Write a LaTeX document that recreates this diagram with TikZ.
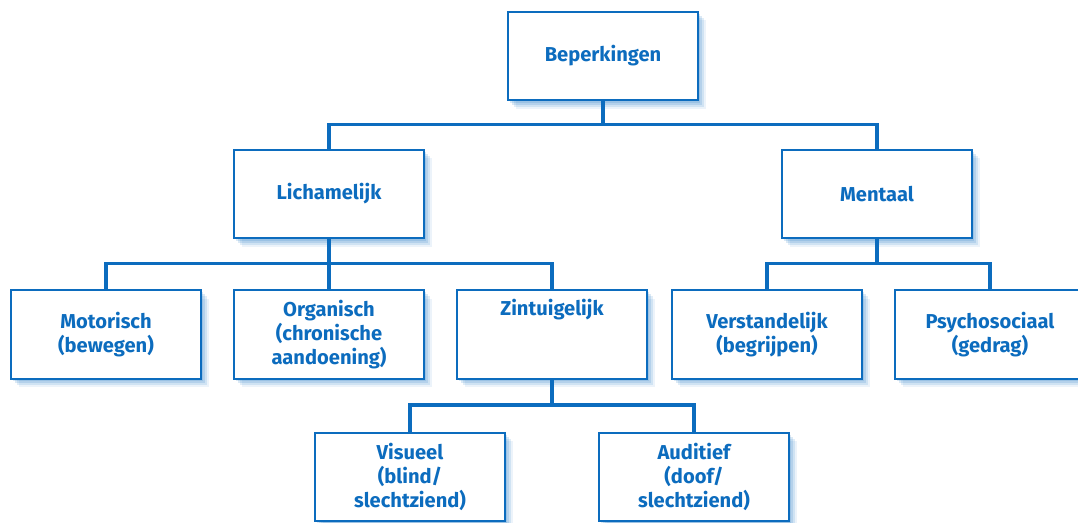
\documentclass[tikz,border=0pt]{standalone}
\usepackage{fontspec}
\setmainfont{Fira Sans}
\usepackage{tikz}
\usetikzlibrary{shadows,calc}
\definecolor{blokblauw}{RGB}{12,108,190}
\tikzstyle{blok}=[draw=blokblauw,line width=1.4pt,fill=white,
               minimum width=4.75cm,minimum height=2.22cm,align=center,
               text=blokblauw,font=\fontsize{14.3}{17}\selectfont\bfseries,
               drop shadow={fill=blokblauw,opacity=.15,shadow xshift=1.5pt,shadow yshift=-1.5pt},
               drop shadow={fill=blokblauw,opacity=.15,shadow xshift=3pt,shadow yshift=-3pt},
               drop shadow={fill=blokblauw,opacity=.12,shadow xshift=4.5pt,shadow yshift=-4.5pt},
               drop shadow={fill=blokblauw,opacity=.08,shadow xshift=6pt,shadow yshift=-6pt}]
\tikzstyle{tak}=[draw=blokblauw,line width=2.5pt]

\begin{document}
\begin{tikzpicture}[x=0.025cm,y=-0.025cm]

% % % % % % % % % % % % % % %

\clip (0,0) rectangle (1078,522);
\useasboundingbox (0,0) rectangle (1078,522);

\node[blok] (bep) at (603,56) {Beperkingen};

\node[blok] (lich) at (329,194) {Lichamelijk};
\node[blok] (ment) at (877,194) {Mentaal};

\node[blok] (mot) at (106,334.5) {Motorisch\\(bewegen)};
\node[blok] (org) at (329,334.5) {Organisch\\(chronische\\aandoening)};
\node[blok] (zin) at (552,334.5) {Zintuigelijk\\\strut\\\strut};
\node[blok] (ver) at (767,334.5) {Verstandelijk\\(begrijpen)};
\node[blok] (psy) at (990,334.5) {Psychosociaal\\(gedrag)};

\node[blok] (vis) at (410,477) {Visueel\\(blind/\\slechtziend)};
\node[blok] (aud) at (694,477) {Auditief\\(doof/\\slechtziend)};

\foreach \kind in {lich,ment} {
\draw[tak] (bep.south) -- ++(0,23) -| (\kind.north);
}
\foreach \kind in {mot,org,zin} {
\draw[tak] (lich.south) -- ++(0,24) -| (\kind.north);
}
\foreach \kind in {ver,psy} {
\draw[tak] (ment.south) -- ++(0,24) -| (\kind.north);
}
\foreach \kind in {vis,aud} {
\draw[tak] (zin.south) -- ++(0,25) -| (\kind.north);
}

\end{tikzpicture}
\end{document}
